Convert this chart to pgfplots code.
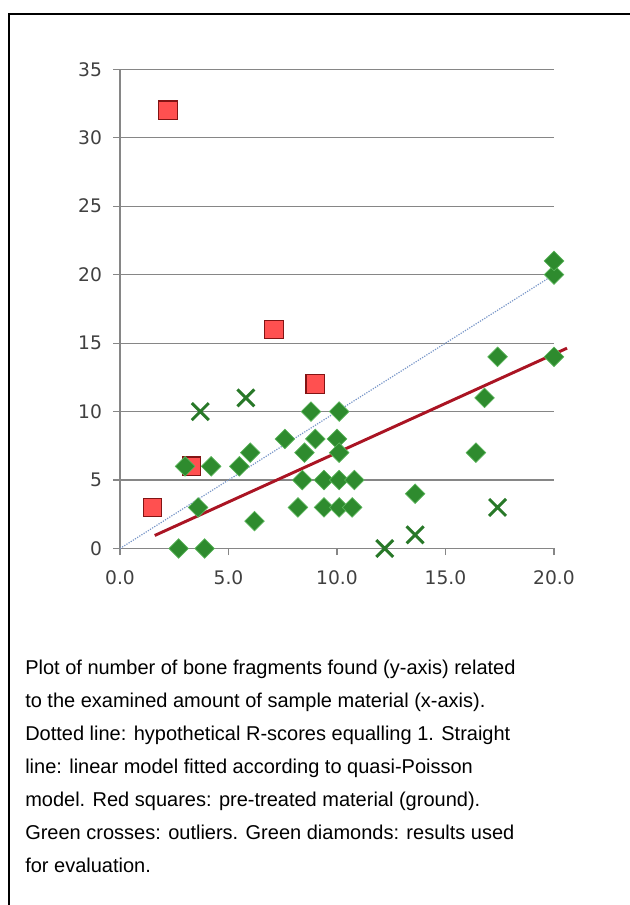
\documentclass[border=0pt]{standalone}
\usepackage{pgfplots}
\pgfplotsset{compat=1.18}
\usepackage{fontspec}
\setmainfont{Liberation Sans}
\newfontfamily\tickfont{DejaVu Sans}
\definecolor{gridgray}{RGB}{134,134,134}
\definecolor{ticktext}{RGB}{64,64,64}
\definecolor{dgreen}{RGB}{46,139,46}
\definecolor{lgreen}{RGB}{90,180,90}
\definecolor{xgreen}{RGB}{40,120,40}
\definecolor{sqred}{RGB}{255,80,80}
\definecolor{sqedge}{RGB}{130,20,20}
\definecolor{fitred}{RGB}{170,20,35}
\definecolor{dotblue}{RGB}{120,150,200}
\begin{document}
\begin{tikzpicture}
\useasboundingbox (0,0) rectangle (471.75pt,678.75pt);
% frame (left and top edges visible)
\draw[line width=1.5pt] (6.4pt,-5pt) -- (6.4pt,668.25pt) -- (480pt,668.25pt);
\begin{axis}[
  at={(90pt,267.375pt)}, anchor=south west,
  scale only axis, width=325.5pt, height=359.4pt,
  xmin=0, xmax=20, ymin=0, ymax=35,
  axis x line=bottom, axis y line=left,
  axis line style={gridgray, line width=0.9pt, -},
  xtick={0,5,10,15,20}, ytick={0,5,...,35},
  ymajorgrids, grid style={gridgray, line width=0.9pt},
  tick align=outside, major tick length=5pt,
  tick style={gridgray, line width=0.9pt},
  /pgf/number format/assume math mode=true,
  ticklabel style={font=\tickfont\fontsize{14pt}{16pt}\selectfont, text=ticktext},
  yticklabel style={xshift=-5pt},
  xticklabel style={yshift=-8pt, /pgf/number format/.cd, fixed, fixed zerofill, precision=1},
  clip=false,
]
\addplot[dotblue, densely dotted, line width=0.9pt] coordinates {(0,0) (20,20)};
\addplot[only marks, mark=square*, mark size=7pt, mark options={fill=sqred, draw=sqedge, line width=0.8pt}] coordinates {
(1.5,3) (2.2,32) (3.3,6) (7.1,16) (9.0,12)};
\addplot[only marks, mark=square*, mark size=5.2pt, mark options={rotate=45, fill=dgreen, draw=lgreen, line width=0.5pt}] coordinates {
(2.7,0) (3.9,0) (3.6,3) (3.0,6) (4.2,6) (5.5,6) (6.0,7) (6.2,2) (7.6,8)
(8.2,3) (8.4,5) (8.5,7) (8.8,10) (9.0,8) (9.4,5) (9.4,3) (10.0,8) (10.1,10)
(10.1,7) (10.1,5) (10.1,3) (10.8,5) (10.7,3) (13.6,4) (16.4,7) (16.8,11)
(17.4,14) (20,14) (20,20) (20,21)};
\addplot[only marks, mark=x, mark size=9pt, mark options={draw=xgreen, line width=2.2pt}] coordinates {
(3.7,10) (5.8,11) (12.2,0) (13.6,1) (17.4,3)};
\addplot[fitred, line width=2.2pt] coordinates {(1.6,0.95) (20.6,14.63)};
\end{axis}
\begin{scope}[every node/.style={anchor=base west, inner sep=0pt, font=\fontsize{15pt}{18pt}\selectfont}]
\node at (18.75pt,172.5pt) {Plot of number of bone fragments found (y-axis) related};
\node at (18.75pt,147.75pt) {to the examined amount of sample material (x-axis).};
\node at (18.75pt,123pt) {Dotted line: hypothetical R-scores equalling 1. Straight};
\node at (18.75pt,98.25pt) {line: linear model fitted according to quasi-Poisson};
\node at (18.75pt,73.5pt) {model. Red squares: pre-treated material (ground).};
\node at (18.75pt,48.75pt) {Green crosses: outliers. Green diamonds: results used};
\node at (18.75pt,24pt) {for evaluation.};
\end{scope}
\end{tikzpicture}
\end{document}
